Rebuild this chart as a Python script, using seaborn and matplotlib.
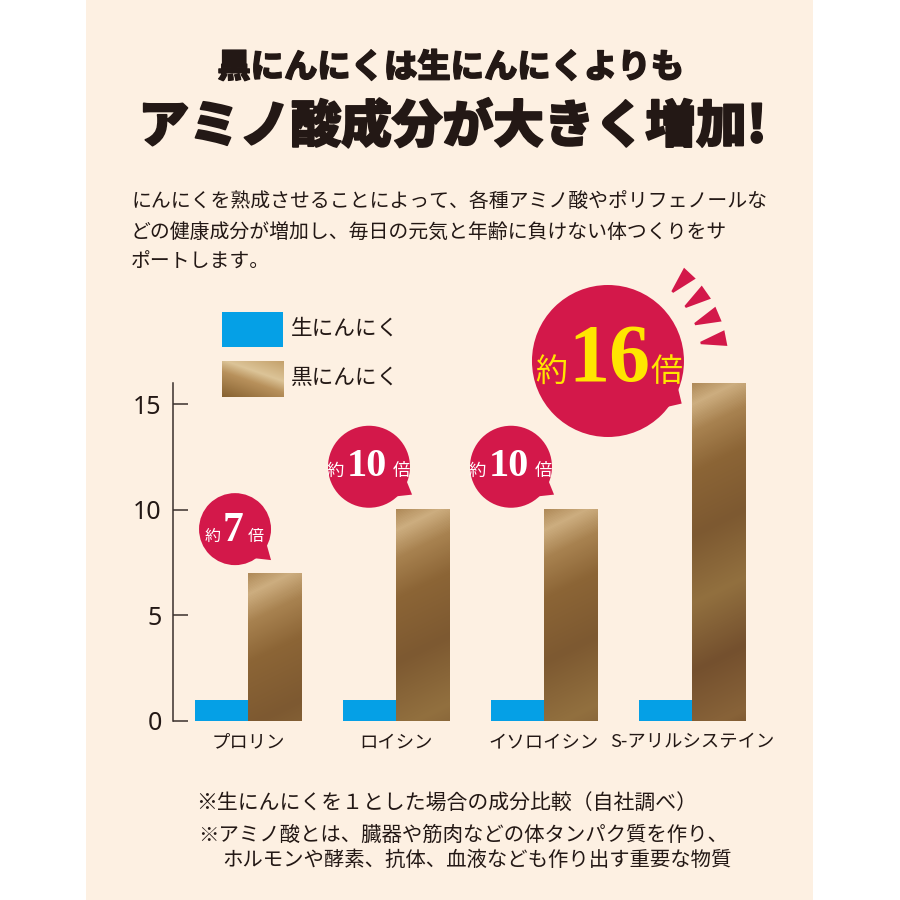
import numpy as np
import pandas as pd
import matplotlib
matplotlib.use("Agg")
import matplotlib.pyplot as plt
import matplotlib.patheffects as pe
import seaborn as sns
from matplotlib.patches import Rectangle, Circle, Polygon
from matplotlib.colors import LinearSegmentedColormap

# ---------------- data ----------------
amino_acids = ["プロリン", "ロイシン", "イソロイシン", "S-アリルシステイン"]
garlic_types = ["生にんにく", "黒にんにく"]
raw_values = [1, 1, 1, 1]
black_values = [7, 10, 10, 16]
y_ticks = [0, 5, 10, 15]

title_lines = ["黒にんにくは生にんにくよりも", "アミノ酸成分が大きく増加!"]
intro_lines = [
    "にんにくを熟成させることによって、各種アミノ酸やポリフェノールな",
    "どの健康成分が増加し、毎日の元気と年齢に負けない体つくりをサ",
    "ポートします。",
]
note_lines = [
    "※生にんにくを１とした場合の成分比較（自社調べ）",
    "※アミノ酸とは、臓器や筋肉などの体タンパク質を作り、",
    "ホルモンや酵素、抗体、血液なども作り出す重要な物質",
]

df = pd.DataFrame({
    "amino": amino_acids * 2,
    "type": [garlic_types[0]] * len(amino_acids) + [garlic_types[1]] * len(amino_acids),
    "value": raw_values + black_values,
})

# ---------------- style ----------------
sns.set_theme(style="white")
plt.rcParams["font.family"] = ["Noto Sans CJK JP", "DejaVu Sans"]

W = H = 900
INK = "#231815"
CREAM = "#FDF0E2"
BLUE = "#05A0E6"
BROWN = "#9B7442"
RED = "#D3184A"

fig = plt.figure(figsize=(9, 9), dpi=100, facecolor="white")

bg = fig.add_axes([0, 0, 1, 1], zorder=0)
bg.set_xlim(0, W); bg.set_ylim(H, 0); bg.axis("off")
bg.add_patch(Rectangle((86, 0), 727, H, color=CREAM, lw=0))

ax = fig.add_axes([173 / W, 1 - 721 / H, (767 - 173) / W, (721 - 383) / H], zorder=1)
ax.patch.set_alpha(0)

sns.barplot(data=df, x="amino", y="value", hue="type", order=amino_acids,
            hue_order=garlic_types, palette=[BLUE, BROWN], width=0.72,
            saturation=1, errorbar=None, legend=False, ax=ax,
            linewidth=0, edgecolor="none")

XL = (-0.507, 3.507)
YL = (0, 16)

# gold gradient colormap (pixel distance along diagonal)
gold_stops = [(0.0, "#B08B5A"), (0.05, "#CDAE80"), (0.12, "#A88250"),
              (0.22, "#8C6536"), (0.38, "#7D5931"), (0.55, "#92703F"),
              (0.72, "#74502E"), (0.88, "#886339"), (1.0, "#684423")]
gold_cmap = LinearSegmentedColormap.from_list("gold", gold_stops)

px_per_x = (767 - 173) / (XL[1] - XL[0])
px_per_y = (721 - 383) / (YL[1] - YL[0])

brown_rgb = matplotlib.colors.to_rgb(BROWN)
brown_patches = []
for p in ax.patches:
    fc = p.get_facecolor()
    if abs(fc[0] - brown_rgb[0]) < 0.02 and abs(fc[2] - brown_rgb[2]) < 0.02 and p.get_height() > 0:
        brown_patches.append(p)
brown_patches.sort(key=lambda q: q.get_x())

for p in brown_patches:
    x0, w, h = p.get_x(), p.get_width(), p.get_height()
    nx = max(2, int(w * px_per_x))
    ny = max(2, int(h * px_per_y))
    xp, yp = np.meshgrid(np.arange(nx), np.arange(ny))
    d = yp + 0.5 * xp
    ax.imshow(d, cmap=gold_cmap, vmin=0, vmax=400, extent=[x0, x0 + w, 0, h],
              origin="upper", aspect="auto", interpolation="bilinear",
              zorder=p.get_zorder() + 0.1)

ax.set_xlim(*XL)
ax.set_ylim(*YL)
ax.set_aspect("auto")
ax.set_xlabel("")
ax.set_ylabel("")
for s in ["top", "right", "bottom"]:
    ax.spines[s].set_visible(False)
ax.spines["left"].set_color("#3A302C")
ax.spines["left"].set_linewidth(1.1)
ax.set_yticks(y_ticks)
ax.set_yticklabels([str(t) for t in y_ticks])
ax.tick_params(axis="y", direction="in", length=11, width=1.1, color="#3A302C",
               labelsize=18, pad=8, labelcolor=INK, left=True)
ax.tick_params(axis="x", length=0, pad=9, labelsize=13.2, labelcolor=INK)
for lbl in ax.get_yticklabels():
    lbl.set_fontfamily(["Noto Sans", "DejaVu Sans"])

# ---------------- foreground overlay ----------------
fg = fig.add_axes([0, 0, 1, 1], zorder=2)
fg.set_xlim(0, W); fg.set_ylim(H, 0); fg.axis("off")
fg.patch.set_alpha(0)

# titles
fg.text(451, 67, title_lines[0], ha="center", va="center", fontsize=24,
        fontweight="black", color=INK,
        path_effects=[pe.withStroke(linewidth=0.9, foreground=INK)])
fg.text(453, 127, title_lines[1], ha="center", va="center", fontsize=36.5,
        fontweight="black", color=INK,
        path_effects=[pe.withStroke(linewidth=1.3, foreground=INK)])

# intro paragraph
for i, line in enumerate(intro_lines):
    fg.text(131, 202 + i * 30, line, ha="left", va="center", fontsize=14.3, color=INK)

# legend
fg.add_patch(Rectangle((222, 312), 61, 35, color=BLUE, lw=0))
leg_stops = [(0.0, "#C4A16B"), (0.35, "#DCC498"), (0.55, "#B8915C"), (1.0, "#85602F")]
leg_cmap = LinearSegmentedColormap.from_list("leggold", leg_stops)
lx, ly = np.meshgrid(np.arange(62), np.arange(36))
fg.imshow(ly * 1.0 - 0.35 * lx + 22, cmap=leg_cmap, vmin=0, vmax=58,
          extent=[222, 284, 397, 361], origin="upper", aspect="auto",
          interpolation="bilinear", zorder=3)
fg.text(291, 329, garlic_types[0], ha="left", va="center", fontsize=15.6, color=INK)
fg.text(291, 378, garlic_types[1], ha="left", va="center", fontsize=15.6, color=INK)
fg.set_xlim(0, W); fg.set_ylim(H, 0)

# badges
badge_styles = [
    dict(dx=-13, dy=-44, r=36, num=30, small=11.5, col="white", ndx=-2, sdx=(-22, 21), base=12,
         tip=(1.0, 0.86), ang=(20, 62)),
    dict(dx=-27, dy=-43, r=41, num=29, small=12.5, col="white", ndx=-2, sdx=(-34, 32), base=9,
         tip=(1.05, 0.68), ang=(15, 55)),
    dict(dx=-33, dy=-43, r=41, num=29, small=12.5, col="white", ndx=-2, sdx=(-34, 32), base=9,
         tip=(1.05, 0.68), ang=(15, 55)),
    dict(dx=-84, dy=-22, r=76, num=59, small=23, col="#FFE600", ndx=1, sdx=(-57, 59), base=20,
         tip=(0.97, 0.56), ang=(12, 45)),
]
num_font = ["Liberation Serif", "DejaVu Serif"]
for p, val, st in zip(brown_patches, black_values, badge_styles):
    disp = ax.transData.transform((p.get_x(), p.get_height()))
    bx, by = disp[0], H - disp[1]
    cx, cy, r = bx + st["dx"], by + st["dy"], st["r"]
    a1, a2 = np.radians(st["ang"][0]), np.radians(st["ang"][1])
    tail = [(cx + 0.9 * r * np.cos(a1), cy + 0.9 * r * np.sin(a1)),
            (cx + st["tip"][0] * r, cy + st["tip"][1] * r),
            (cx + 0.9 * r * np.cos(a2), cy + 0.9 * r * np.sin(a2))]
    fg.add_patch(Polygon(tail, closed=True, color=RED, lw=0, zorder=4))
    fg.add_patch(Circle((cx, cy), r, color=RED, lw=0, zorder=4))
    if val == max(black_values):
        for ang in (-47, -35, -23, -11):
            a = np.radians(ang)
            u = np.array([np.cos(a), np.sin(a)])
            n = np.array([-np.sin(a), np.cos(a)])
            c = np.array([cx, cy])
            pin = c + 1.24 * r * u
            pout = c + 1.58 * r * u
            ray = [pin + 1.2 * n, pout + 8 * n, pout - 8 * n, pin - 1.2 * n]
            fg.add_patch(Polygon(ray, closed=True, color=RED, lw=0, zorder=4))
    yb = cy + st["base"]
    fg.text(cx + st["ndx"], yb, f"{val}", ha="center", va="baseline",
            fontsize=st["num"], fontweight="bold", family=num_font,
            color=st["col"], zorder=5)
    fg.text(cx + st["sdx"][0], yb, "約", ha="center", va="baseline",
            fontsize=st["small"], color=st["col"], zorder=5)
    fg.text(cx + st["sdx"][1], yb, "倍", ha="center", va="baseline",
            fontsize=st["small"], color=st["col"], zorder=5)

# notes
fg.text(196, 803, note_lines[0], ha="left", va="center", fontsize=15, color=INK)
fg.text(198, 835, note_lines[1], ha="left", va="center", fontsize=14.7, color=INK)
fg.text(222, 860, note_lines[2], ha="left", va="center", fontsize=14.7, color=INK)

fig.savefig("out.png", dpi=100, facecolor="white")
